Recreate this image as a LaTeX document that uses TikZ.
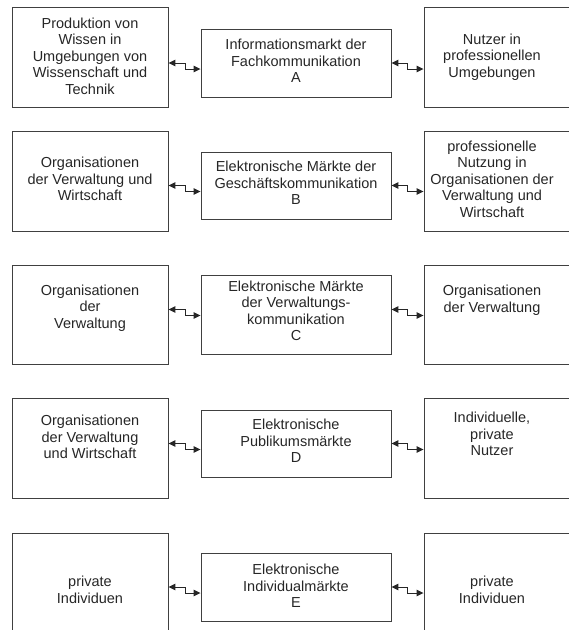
\documentclass[tikz,border=0pt]{standalone}
\usepackage{fontspec}
\setmainfont{Liberation Sans}
\usetikzlibrary{arrows.meta,calc}
\begin{document}
\begin{tikzpicture}[x=1pt,y=-1pt,
  box/.style={draw=black!75, line width=0.9pt, inner sep=0pt},
  side/.style={box, minimum width=156pt, minimum height=100pt},
  mid/.style={box, minimum width=190pt},
  txt/.style={align=center, font=\fontsize{14.5}{16.5}\selectfont, text=black!85, inner sep=0pt},
  conn/.style={draw=black!85, line width=1pt, {Triangle[length=7pt,width=6.5pt]}-{Triangle[length=7pt,width=6.5pt]}}]
\useasboundingbox (0,0) rectangle (569,630);
\clip (0,0) rectangle (569,630);

% Row 1
\node[side] (L1) at (90,57.5) {};
\node[mid, minimum height=68pt] (C1) at (296,63) {};
\node[side] (R1) at (502,57.5) {};
\node[txt] (L1t) at (90,56) {Produktion von\\Wissen in\\Umgebungen von\\Wissenschaft und\\Technik};
\node[txt] (C1t) at (296,61) {Informationsmarkt der\\Fachkommunikation\\A};
\node[txt] (R1t) at (492,57) {Nutzer in\\professionellen\\Umgebungen};
\draw[conn] (L1.east|-C1.center) -- ++(17,0) |- ($(C1.west)+(0,6)$);
\draw[conn] (C1.east) -- ++(16,0) |- ($(R1.west|-C1.center)+(0,6)$);

% Row 2
\node[side] (L2) at (90,181) {};
\node[mid, minimum height=67pt] (C2) at (296,185.5) {};
\node[side] (R2) at (502,181) {};
\node[txt] (L2t) at (90,179) {Organisationen\\der Verwaltung und\\Wirtschaft};
\node[txt] (C2t) at (296,183) {Elektronische Märkte der\\Geschäftskommunikation\\B};
\node[txt] (R2t) at (492,179) {professionelle\\Nutzung in\\Organisationen der\\Verwaltung und\\Wirtschaft};
\draw[conn] (L2.east|-C2.center) -- ++(17,0) |- ($(C2.west)+(0,6)$);
\draw[conn] (C2.east) -- ++(16,0) |- ($(R2.west|-C2.center)+(0,6)$);

% Row 3
\node[side, minimum height=99pt] (L3) at (90,314.5) {};
\node[mid, minimum height=79pt] (C3) at (296,314.5) {};
\node[side, minimum height=99pt] (R3) at (502,314.5) {};
\node[txt] (L3t) at (90,308) {Organisationen\\der\\Verwaltung};
\node[txt] (C3t) at (296,311) {Elektronische Märkte\\der Verwaltungs-\\kommunikation\\C};
\node[txt] (R3t) at (492,300) {Organisationen\\der Verwaltung};
\draw[conn] ($(L3.east|-C3.center)+(0,-5)$) -- ++(17,0) |- ($(C3.west)+(0,1)$);
\draw[conn] ($(C3.east)+(0,-5)$) -- ++(16,0) |- ($(R3.west|-C3.center)+(0,1)$);

% Row 4
\node[side] (L4) at (90,448) {};
\node[mid, minimum height=67pt] (C4) at (296,443.5) {};
\node[side] (R4) at (502,448) {};
\node[txt] (L4t) at (90,437) {Organisationen\\der Verwaltung\\und Wirtschaft};
\node[txt] (C4t) at (296,441) {Elektronische\\Publikumsmärkte\\D};
\node[txt] (R4t) at (492,434) {Individuelle,\\private\\Nutzer};
\draw[conn] (L4.east|-C4.center) -- ++(17,0) |- ($(C4.west)+(0,6)$);
\draw[conn] (C4.east) -- ++(16,0) |- ($(R4.west|-C4.center)+(0,6)$);

% Row 5
\node[side, minimum height=101pt] (L5) at (90,583.5) {};
\node[mid, minimum height=68pt] (C5) at (296,587) {};
\node[side, minimum height=101pt] (R5) at (502,583.5) {};
\node[txt] (L5t) at (90,590) {private\\Individuen};
\node[txt] (C5t) at (296,586) {Elektronische\\Individualmärkte\\E};
\node[txt] (R5t) at (492,590) {private\\Individuen};
\draw[conn] (L5.east|-C5.center) -- ++(17,0) |- ($(C5.west)+(0,6)$);
\draw[conn] (C5.east) -- ++(16,0) |- ($(R5.west|-C5.center)+(0,6)$);
\end{tikzpicture}
\end{document}
